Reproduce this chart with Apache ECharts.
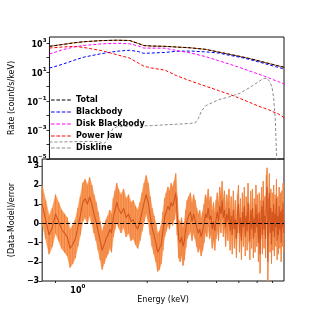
<!DOCTYPE html>
<html>
<head>
<meta charset="utf-8">
<script src="https://cdn.jsdelivr.net/npm/echarts@6/dist/echarts.min.js"></script>
<style>
html,body{margin:0;padding:0;background:#fff;}
#chart{width:316px;height:316px;}
</style>
</head>
<body>
<div id="chart"></div>
<script>
// ---------- model curves (top panel) ----------
const modelEnergy = [0.7, 0.8, 0.9, 1.0, 1.2, 1.4, 1.6, 1.75, 1.85, 2.0, 2.3, 2.6, 3.0, 3.5, 4.0, 4.5, 5.0, 5.5, 6.0, 6.4, 6.8, 7.0, 7.2, 7.4, 7.9];
const totalRate = [590, 790, 1030, 1230, 1470, 1560, 1490, 925, 670, 620, 590, 528, 465, 365, 238, 165, 118, 85, 61, 47, 37, 33, 29.5, 26.5, 21];
const dataRate = [590, 790, 1030, 1230, 1470, 1560, 1490, 925, 670, 620, 590, 528, 465, 365, 238, 165, 118, 85, 61, 47, 37, 33, 29.5, 26.5, 21];
const blackbodyRate = [18.6, 34, 64, 107, 187, 270, 316, 258, 194, 203, 224, 270, 280, 245, 203, 140, 104, 74, 51, 39, 30, 26.5, 23.3, 21, 15.8];
const diskBBRate = [173, 344, 528, 680, 880, 955, 880, 620, 450, 443, 440, 303, 206, 115, 60, 34, 20, 11.8, 7.4, 5.2, 3.6, 3.0, 2.5, 2.2, 1.44];
const powerLawRate = [450, 528, 590, 490, 298, 157, 91, 41, 25.5, 19, 13.5, 5.5, 2.4, 1.05, 0.52, 0.28, 0.148, 0.081, 0.046, 0.032, 0.023, 0.018, 0.0155, 0.013, 0.0068];
const disklineEnergy = [0.7, 0.8, 0.9, 1.0, 1.1, 1.18, 1.22, 1.26, 1.3, 1.35, 1.4, 1.6, 2.0, 2.3, 2.6, 3.0, 3.15, 3.25, 3.35, 3.5, 4.0, 4.5, 5.0, 5.5, 6.0, 6.3, 6.4, 6.55, 6.8, 6.95, 7.05, 7.18, 7.28, 7.35];
const disklineRate = [1.46e-4, 1.51e-4, 1.55e-4, 1.63e-4, 1.63e-4, 1.51e-4, 1.10e-4, 1.63e-4, 5.0e-4, 1.30e-3, 1.65e-3, 1.85e-3, 2.0e-3, 2.28e-3, 2.5e-3, 2.88e-3, 3.2e-3, 6.4e-3, 0.0195, 0.047, 0.123, 0.20, 0.35, 0.83, 2.0, 3.3, 4.2, 3.8, 2.1, 0.76, 0.19, 4.7e-3, 8e-6, 7e-7];

// ---------- residuals (bottom panel) ----------
const residEnergy = [
 0.700,0.725,0.750,0.775,0.800,0.825,0.850,0.875,0.900,0.925,0.950,0.975,1.000,1.025,1.050,1.075,1.100,1.125,1.150,1.175,1.200,1.225,1.250,1.275,1.300,1.325,1.350,1.375,1.400,1.425,1.450,1.475,1.500,
 1.54,1.58,1.62,1.66,1.70,1.74,1.78,1.82,1.86,1.90,1.94,1.98,2.02,2.06,2.10,2.14,2.18,2.22,2.26,2.30,2.34,2.38,2.42,2.46,2.50,2.54,2.58,2.62,2.66,2.70,2.74,2.78,2.82,2.86,2.90,2.94,2.98,
 3.03,3.08,3.13,3.18,3.23,3.28,3.33,3.38,3.43,3.48,3.53,3.58,3.63,3.68,3.73,3.78,3.83,3.88,3.93,3.98,
 4.03,4.08,4.13,4.18,4.23,4.28,4.33,4.38,4.43,4.48,4.53,4.58,4.63,4.68,4.73,4.78,4.83,4.88,4.93,4.98,
 5.03,5.08,5.13,5.18,5.23,5.28,5.33,5.38,5.43,5.48,5.53,5.58,5.63,5.68,5.73,5.78,5.83,5.88,5.93,5.98,
 6.03,6.08,6.13,6.18,6.23,6.28,6.33,6.38,6.43,6.48,6.53,6.58,6.63,6.68,6.73,6.78,6.83,6.88,6.93,6.98,
 7.03,7.08,7.13,7.18,7.23,7.28,7.33,7.38,7.43,7.48,7.53,7.58,7.63,7.68,7.73,7.78,7.83
];
const residValue = [
 1.0,0.2,-0.6,-0.2,0.5,0.1,-0.3,-0.5,-0.7,-1.3,-1.1,-0.8,-0.2,0.4,1.1,1.3,1.0,1.4,1.0,0.5,0.1,-0.4,-0.9,-1.4,-1.1,-0.8,-0.6,-0.3,-0.5,0.3,0.7,1.1,0.8,
 0.5,0.8,0.3,0.5,0.1,0.2,-0.1,-0.3,0.1,0.6,1.1,1.5,1.1,0.4,-0.2,-0.6,-1.0,-1.5,-1.4,-1.1,-0.4,0.3,0.6,0.9,0.7,1.1,0.9,1.2,1.6,0.4,-0.8,-1.0,-0.7,-1.2,-0.9,-0.3,0.2,
 0.4,0.6,0.1,0.5,0.2,-0.2,-0.5,-0.3,-0.7,-0.4,0.0,0.5,0.3,0.8,0.2,0.4,-0.3,0.1,-0.4,0.2,
 0.6,0.1,0.9,0.5,1.2,0.3,0.7,-0.2,0.5,0.1,0.8,-0.4,0.4,-0.6,0.7,-0.3,0.2,-0.8,0.5,1.0,
 -0.5,0.3,-0.9,0.6,-0.2,0.9,-0.7,0.4,-0.4,1.1,0.0,-0.9,0.7,-0.3,0.8,-0.8,0.3,-0.5,1.0,-0.2,
 0.5,-1.0,0.6,-1.6,0.2,0.9,-0.6,1.2,-0.3,0.4,-0.8,1.5,1.9,-2.0,0.3,1.6,-0.5,0.8,-1.1,0.6,
 -0.4,1.0,-0.7,0.5,-0.2,1.3,-0.9,0.4,-0.6,0.9,-0.3,0.6,-1.0,0.7,-0.2,1.1,-0.5
];
const residError = 1;
const minorTickEnergy = [0.8, 2, 3, 4, 5, 6, 7];

// ---------- chart ----------
const FONT = 'DejaVu Sans';
const pairs = (xs, ys) => xs.map((x, i) => [x, ys[i]]);
const supRich = {
  b: {fontFamily: FONT, fontSize: 8, fontWeight: 'bold', color: '#000', lineHeight: 11, verticalAlign: 'bottom'},
  s: {fontFamily: FONT, fontSize: 5.5, fontWeight: 'bold', color: '#000', lineHeight: 7, verticalAlign: 'top'}
};
function logLabel(v, keep) {
  const lg = Math.log10(v);
  const e = Math.round(lg);
  if (Math.abs(lg - e) > 1e-6 || !keep(e)) return '';
  const s = e < 0 ? '\u2212' + (-e) : String(e);
  return '{b|10}{s|' + s + '}';
}
const dashed = [3, 2];
const dashIcon = 'path://M0,0h0.01v0.01h-0.01z M20,10h-0.01v-0.01h0.01z ' +
  'M0,4.5h3.6v1h-3.6z M5.4,4.5h3.6v1h-3.6z M10.8,4.5h3.6v1h-3.6z M16.2,4.5h3.6v1h-3.6z';
function modelLine(name, xs, ys, color) {
  return {
    name, type: 'line', xAxisIndex: 0, yAxisIndex: 0, data: pairs(xs, ys),
    symbol: 'none', smooth: false, silent: true,
    lineStyle: {color, width: 1, type: dashed}, itemStyle: {color}
  };
}
// segments of the ±1 error band between neighbouring channels
const bandSegments = residEnergy.slice(0, -1).map((e, i) => [e, residEnergy[i + 1], residValue[i], residValue[i + 1]]);

const chart = echarts.init(document.getElementById('chart'), null, {renderer: 'canvas'});
chart.setOption({
  animation: false,
  backgroundColor: '#fff',
  grid: [
    {left: 38, right: 32, top: 37, height: 122, show: true, borderColor: '#111', borderWidth: 1, backgroundColor: 'transparent'},
    {left: 38, right: 32, top: 159, height: 122, show: true, borderColor: '#111', borderWidth: 1, backgroundColor: 'transparent'}
  ],
  legend: {
    data: ['Total', 'Blackbody', 'Disk Blackbody', 'Power law', 'Diskline'].map(n => ({name: n, icon: dashIcon})),
    orient: 'vertical', left: 46, top: 90, itemWidth: 20, itemHeight: 10, itemGap: 2,
    textStyle: {fontFamily: FONT, fontSize: 8, fontWeight: 'bold', color: '#000'},
    backgroundColor: 'transparent', selectedMode: false
  },
  xAxis: [
    {type: 'log', gridIndex: 0, min: 0.7, max: 7.85, axisLine: {show: false}, axisTick: {show: false},
     axisLabel: {show: false}, splitLine: {show: false}, minorTick: {show: false}},
    {type: 'log', gridIndex: 1, min: 0.7, max: 7.85, axisLine: {show: false},
     axisTick: {show: true, length: 3.5, lineStyle: {color: '#000', width: 0.8}},
     axisLabel: {show: true, margin: 3, showMinLabel: false, showMaxLabel: false,
       formatter: v => logLabel(v, e => e === 0), rich: supRich},
     splitLine: {show: false},
     name: 'Energy (keV)', nameLocation: 'middle', nameGap: 15,
     nameTextStyle: {fontFamily: FONT, fontSize: 8, color: '#000'}}
  ],
  yAxis: [
    {type: 'log', gridIndex: 0, min: 1e-5, max: 2600, axisLine: {show: false},
     axisTick: {show: true, length: 3, lineStyle: {color: '#000', width: 0.8}},
     axisLabel: {margin: 3, showMaxLabel: false, formatter: v => logLabel(v, e => Math.abs(e) % 2 === 1), rich: supRich},
     splitLine: {show: false},
     name: 'Rate (count/s/keV)', nameLocation: 'middle', nameGap: 24,
     nameTextStyle: {fontFamily: FONT, fontSize: 8, color: '#000'}},
    {type: 'value', gridIndex: 1, min: -3, max: 3.36, interval: 1, axisLine: {show: false},
     axisTick: {show: true, length: 3.5, lineStyle: {color: '#000', width: 0.8}},
     axisLabel: {margin: 3, showMaxLabel: false, fontFamily: FONT, fontSize: 8, fontWeight: 'bold', color: '#000',
       formatter: v => (Math.abs(v - Math.round(v)) > 1e-6 ? '' : String(Math.round(v)).replace('-', '\u2212'))},
     splitLine: {show: false},
     name: '(Data-Model)/error', nameLocation: 'middle', nameGap: 14,
     nameTextStyle: {fontFamily: FONT, fontSize: 8, color: '#000'}}
  ],
  series: [
    {name: 'Data', type: 'line', xAxisIndex: 0, yAxisIndex: 0, data: pairs(modelEnergy, dataRate),
     symbol: 'none', silent: true, lineStyle: {color: '#c8621f', width: 1}, itemStyle: {color: '#c8621f'}},
    modelLine('Total', modelEnergy, totalRate, '#000000'),
    modelLine('Blackbody', modelEnergy, blackbodyRate, '#0000ff'),
    modelLine('Disk Blackbody', modelEnergy, diskBBRate, '#ff00ff'),
    modelLine('Power law', modelEnergy, powerLawRate, '#ff0000'),
    modelLine('Diskline', disklineEnergy, disklineRate, '#8c8c8c'),
    {name: 'ErrorBand', type: 'custom', xAxisIndex: 1, yAxisIndex: 1, silent: true,
     data: bandSegments, encode: {x: [0, 1], y: [2, 3]},
     renderItem: (params, api) => {
       const e0 = api.value(0), e1 = api.value(1), r0 = api.value(2), r1 = api.value(3);
       const pts = [
         api.coord([e0, r0 + residError]), api.coord([e1, r1 + residError]),
         api.coord([e1, r1 - residError]), api.coord([e0, r0 - residError])
       ];
       const cs = params.coordSys;
       const clipped = echarts.graphic.clipPointsByRect(pts, {x: cs.x, y: cs.y, width: cs.width, height: cs.height});
       return {type: 'polygon', shape: {points: clipped},
               style: {fill: '#fc9a55', stroke: '#fc9a55', lineWidth: 0.6}};
     }},
    {name: 'ErrorBars', type: 'custom', xAxisIndex: 1, yAxisIndex: 1, silent: true,
     data: residEnergy.map((e, i) => [e, residValue[i] - residError, residValue[i] + residError]),
     encode: {x: 0, y: [1, 2]},
     renderItem: (params, api) => {
       const lo = api.coord([api.value(0), api.value(1)]);
       const hi = api.coord([api.value(0), api.value(2)]);
       const cs = params.coordSys;
       const y1 = Math.max(hi[1], cs.y), y2 = Math.min(lo[1], cs.y + cs.height);
       if (lo[0] < cs.x || lo[0] > cs.x + cs.width) return null;
       return {type: 'line', shape: {x1: lo[0], y1, x2: lo[0], y2},
               style: {stroke: 'rgba(212,86,30,0.55)', lineWidth: 0.7}};
     }},
    {name: 'Residual', type: 'line', xAxisIndex: 1, yAxisIndex: 1,
     data: pairs(residEnergy, residValue), symbol: 'none', silent: true,
     lineStyle: {color: '#d4561e', width: 1.1}, itemStyle: {color: '#d4561e'},
     markLine: {silent: true, symbol: 'none', label: {show: false},
       lineStyle: {color: '#000', width: 1.2, type: [4, 2]}, data: [{yAxis: 0}]}},
    {name: 'minorTicks', type: 'custom', xAxisIndex: 1, yAxisIndex: 1, silent: true,
     data: minorTickEnergy.map(e => [e, -3]), encode: {x: 0, y: 1},
     renderItem: (params, api) => {
       const p = api.coord([api.value(0), api.value(1)]);
       return {type: 'line', shape: {x1: p[0], y1: p[1], x2: p[0], y2: p[1] + 2},
               style: {stroke: '#000', lineWidth: 0.8}};
     }}
  ]
});
</script>
</body>
</html>
